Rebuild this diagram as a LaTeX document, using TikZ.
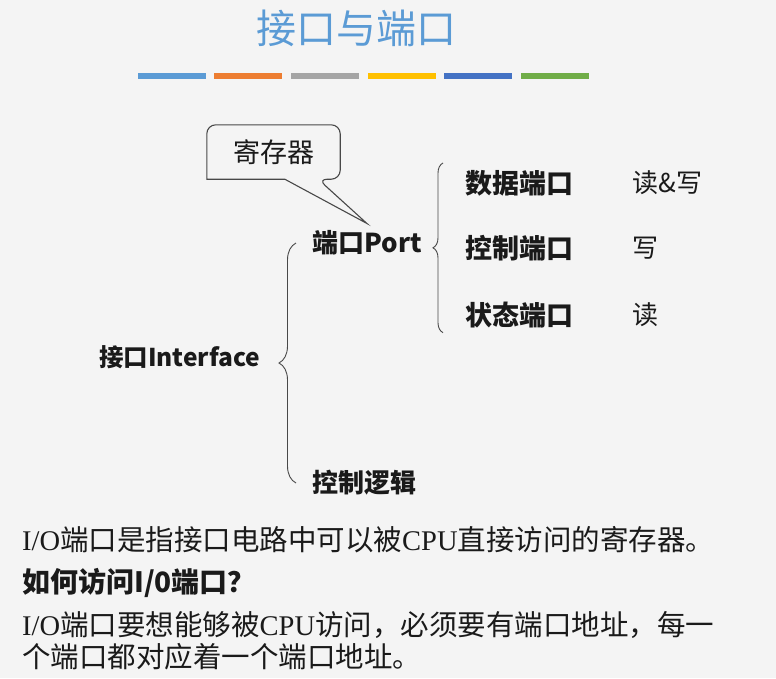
\documentclass[tikz,border=0pt]{standalone}
\usepackage{fontspec}
\setmainfont{Noto Sans CJK SC}
\newfontfamily\tms{Liberation Serif}
\usepackage{xcolor}
\usepackage{tikz}
\usetikzlibrary{positioning, decorations.pathreplacing}

\definecolor{pagebg}{HTML}{F4F4F4}
\definecolor{titleblue}{HTML}{5B9BD5}
\definecolor{barblue}{HTML}{5B9BD5}
\definecolor{barorange}{HTML}{ED7D31}
\definecolor{bargray}{HTML}{A5A5A5}
\definecolor{bargold}{HTML}{FFC000}
\definecolor{bardark}{HTML}{4472C4}
\definecolor{bargreen}{HTML}{70AD47}
\definecolor{ink}{HTML}{1A1A1A}

\begin{document}
\begin{tikzpicture}[
  x=1pt, y=-1pt,
  every node/.style={inner sep=0pt, text=ink},
  heading/.style={font=\fontsize{40}{44}\selectfont, text=titleblue},
  label/.style={font=\fontsize{#1}{30}\selectfont\bfseries, anchor=west},
  label/.default=26,
  op/.style={font=\fontsize{26}{30}\selectfont},
  regbox/.style={minimum width=133pt, minimum height=54pt, font=\fontsize{27}{30}\selectfont},
  callline/.style={draw=ink!80, line width=1.1pt},
  brace/.style={decorate, decoration={brace, amplitude=#1}, draw=ink!80, line width=0.9pt},
  textline/.style={font=\fontsize{28.5}{32}\selectfont, anchor=west, align=left},
  question/.style={font=\fontsize{28}{32}\selectfont\bfseries, anchor=west}
]
\useasboundingbox (0,0) rectangle (776,678);
\fill[pagebg] (0,0) rectangle (776,678);

% Title and colour bars
\node[heading] (title) at (356,28) {接口与端口};
\foreach \c [count=\i from 0] in {barblue, barorange, bargray, bargold, bardark, bargreen}
  \fill[\c] (137.5+\i*76.7,73) rectangle ++(68,6);

% Tree
\node[label=24.5] (iface) at (99,357) {接口Interface};
\node[label] (port) at (312,243) {端口Port};
\node[label] (logic) at (312,483) {控制逻辑};
\draw[brace=17pt] ([xshift=-16pt]logic.west) -- ([xshift=-16pt]port.west);

% Port kinds
\node[label=27] (data) at (465,183) {数据端口};
\node[label=27, below=39pt of data] (ctrl) {控制端口};
\node[label=27, below=40pt of ctrl] (status) {状态端口};
\draw[brace=10pt] ([shift={(-22pt,-18pt)}]status.west) -- ([shift={(-22pt,20pt)}]data.west);

% Access
\node[op, right=59pt of data] (rw) {读\&写};
\node[op, right=59pt of ctrl] (wr) {写};
\node[op, right=59pt of status] (rd) {读};

% Callout
\node[regbox] (reg) at (273.5,152) {寄存器};
\draw[callline] (reg.west) [rounded corners=9pt] -- (reg.north west) -- (reg.north east)
  -- (reg.south east) -- ([xshift=-22pt]reg.south east) [sharp corners]
  -- ([yshift=7pt]port.north) -- ([xshift=78pt]reg.south west) -- (reg.south west)
  [rounded corners=9pt] -- cycle;

% Notes
\node[textline] (def) at (22,540) {{\tms I/O}端口是指接口电路中可以被{\tms CPU}直接访问的寄存器。};
\node[question] (how) at (22,583) {如何访问I/0端口？};
\node[textline] (addr) at (22,641) {{\tms I/O}端口要想能够被{\tms CPU}访问，必须要有端口地址，每一\\个端口都对应着一个端口地址。};

\end{tikzpicture}
\end{document}
